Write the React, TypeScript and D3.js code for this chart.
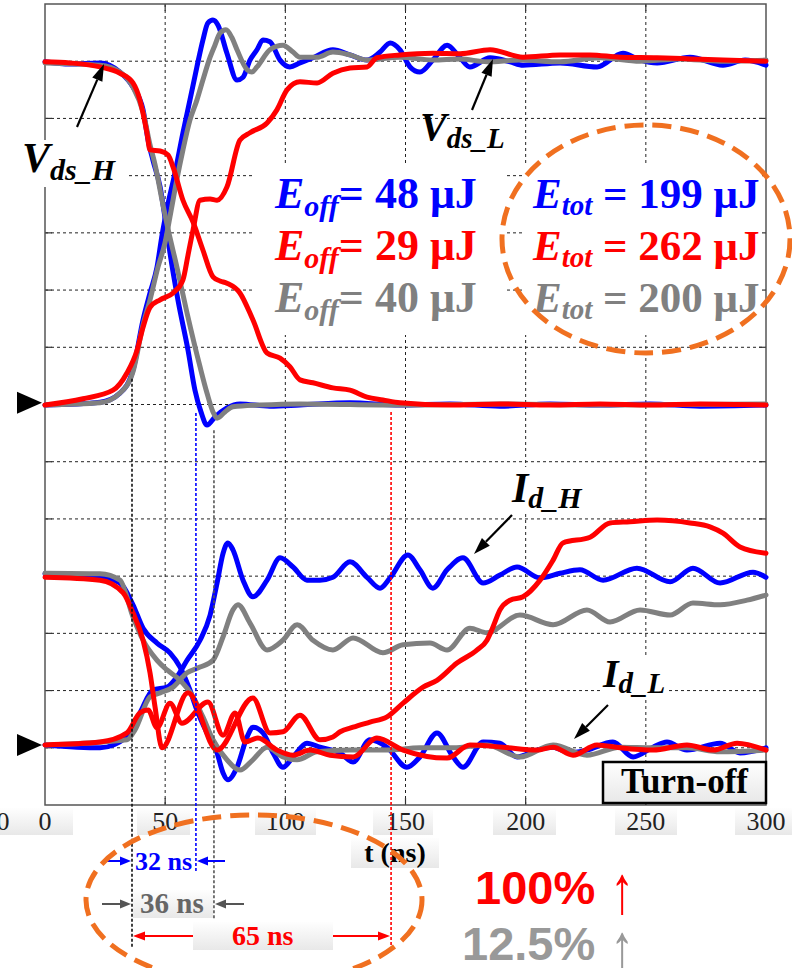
import React from "react";
import * as d3 from "d3";

// ---------- data (t in ns, value in screen divisions from bottom) ----------
const xTickValues = [0, 50, 100, 150, 200, 250, 300];
const xGridValues = [50, 100, 150, 200, 250];
const yGridValues = [1, 2, 3, 4, 5, 6, 7, 8, 9, 10, 11, 12, 13];

const vdsHBlue = [[0,12.99],[10.4,12.95],[22.9,12.97],[31.2,12.81],[36.6,12.55],[40.8,12.15],[42.9,11.62],[44.9,11.27],[47.9,10.8],[49.9,10.27],[52.0,9.65],[55.3,8.83],[59.5,7.95],[62.4,7.25],[64.9,6.87],[67.4,6.64],[70.7,6.78],[75.7,6.94],[81.1,7.01],[93.6,6.97],[106.1,6.99],[126.9,7.03],[147.7,6.99],[168.5,7.01],[189.3,6.97],[210.1,7.01],[231.0,6.99],[251.8,7.01],[272.6,6.97],[300,6.99]];
const vdsLBlue = [[0,6.99],[22.9,7.04],[31.2,7.2],[36.6,7.6],[40.8,8.48],[43.7,8.95],[46.6,9.4],[48.7,9.96],[50.8,10.43],[54.1,11.05],[57.4,11.75],[60.3,12.32],[63.2,12.9],[65.7,13.37],[67.8,13.67],[69.9,13.72],[72.0,13.63],[75.7,13.14],[79.9,12.67],[82.4,12.72],[85.3,13.02],[88.2,13.2],[90.7,13.37],[93.6,13.34],[97.8,13.02],[101.9,12.9],[106.1,12.97],[111.5,13.06],[119.8,13.2],[126.9,13.11],[134.0,13.02],[139.4,13.16],[143.6,13.32],[147.7,13.2],[151.9,12.9],[156.0,12.81],[161.4,13.02],[167.3,13.28],[172.7,13.06],[176.8,12.9],[185.2,13.06],[193.5,12.99],[198.9,12.93],[214.3,12.97],[229.7,12.9],[240.5,13.14],[247.6,13.02],[254.7,12.97],[268.4,13.07],[282.1,12.93],[291.3,13.02],[300,12.93]];
const idHBlue = [[0,4.04],[22.9,3.98],[31.2,3.88],[36.6,3.5],[40.8,3.09],[46.6,2.83],[52.0,2.66],[56.2,2.41],[60.3,2.01],[63.2,1.66],[67.4,1.26],[71.6,0.91],[74.1,0.56],[76.1,0.44],[79.9,0.66],[84.1,1.19],[86.5,1.36],[90.7,1.26],[94.9,0.91],[99.0,0.66],[103.2,0.84],[109.0,1.08],[114.4,1.01],[122.8,0.91],[128.2,0.75],[135.2,1.14],[142.3,1.01],[150.6,0.66],[156.0,0.84],[163.1,1.26],[169.8,0.84],[173.9,0.66],[182.3,1.1],[189.3,1.08],[196.4,0.84],[204.7,0.96],[211.4,1.01],[218.4,0.91],[225.5,0.96],[236.3,1.1],[244.7,0.84],[253.0,1.01],[258.8,1.1],[267.1,0.96],[280.9,1.08],[289.2,0.91],[300,1.0]];
const idLBlue = [[0,1.05],[22.9,1.0],[34.1,1.19],[39.5,1.61],[44.9,2.01],[50.8,2.06],[54.9,2.24],[59.1,2.53],[64.5,2.88],[68.7,3.32],[71.6,3.88],[74.1,4.4],[76.1,4.58],[78.2,4.46],[82.4,3.93],[86.5,3.64],[92.4,3.93],[97.8,4.32],[103.2,4.16],[109.0,3.93],[114.4,3.93],[119.8,3.98],[126.9,4.25],[134.0,3.98],[139.4,3.79],[143.6,3.97],[151.0,4.37],[156.0,4.11],[161.4,3.79],[167.3,4.11],[173.9,4.32],[182.3,3.88],[189.3,4.02],[196.4,4.16],[206.0,3.97],[214.3,4.05],[222.6,4.11],[232.2,3.93],[246.3,4.14],[260.1,3.9],[269.6,4.14],[280.9,3.88],[294.6,4.07],[300,3.98]];

const vdsHGray = [[0,12.97],[22.9,12.93],[31.2,12.81],[36.6,12.55],[40.8,12.11],[43.7,11.54],[45.8,11.19],[48.7,10.57],[50.8,10.14],[54.9,9.4],[59.1,8.6],[64.5,7.66],[67.4,7.2],[69.9,6.87],[71.6,6.76],[74.9,6.87],[78.2,6.96],[89.5,6.99],[106.1,7.01],[147.7,6.99],[189.3,7.01],[231.0,6.99],[300,7.01]];
const vdsLGray = [[0,6.99],[22.9,7.03],[31.2,7.2],[36.6,7.57],[40.8,8.39],[43.7,8.83],[47.0,9.4],[49.9,9.82],[52.0,10.28],[54.9,10.94],[57.4,11.45],[60.3,11.97],[63.2,12.32],[65.7,12.67],[68.7,13.07],[70.7,13.28],[72.8,13.49],[75.3,13.55],[77.8,13.41],[79.9,13.2],[84.1,12.85],[86.1,12.81],[88.2,12.9],[93.6,13.2],[99.0,13.28],[103.2,13.16],[106.1,13.07],[113.2,13.07],[119.8,13.16],[126.9,13.11],[134.0,13.02],[147.7,13.07],[161.4,13.02],[172.7,13.04],[183.9,12.99],[197.6,13.02],[214.3,12.99],[231.0,13.06],[247.6,13.0],[264.2,13.04],[280.9,13.0],[300,13.02]];
const idHGray = [[0,4.05],[22.9,4.04],[31.2,3.93],[36.6,3.29],[40.8,2.88],[46.6,2.53],[50.8,2.36],[56.2,2.18],[61.6,1.89],[65.7,1.54],[69.9,1.14],[75.7,0.79],[81.1,0.61],[86.5,0.79],[92.4,1.01],[99.0,0.84],[104.9,0.79],[113.2,0.93],[126.9,0.96],[142.3,0.96],[156.0,1.0],[169.8,1.0],[183.9,1.05],[197.6,0.84],[211.4,1.05],[225.5,0.87],[239.3,1.01],[253.0,1.0],[267.1,1.0],[280.9,0.93],[300,0.96]];
const idLGray = [[0,1.05],[34.1,1.14],[37.4,1.31],[43.7,1.89],[47.9,1.96],[53.3,2.06],[59.1,2.31],[64.5,2.41],[69.9,2.53],[74.1,2.94],[78.2,3.41],[80.3,3.5],[85.3,3.18],[92.4,2.71],[99.0,2.88],[104.9,3.15],[111.5,2.88],[119.8,2.71],[128.2,2.92],[140.6,2.66],[149.0,2.8],[160.2,2.83],[167.3,2.71],[176.8,3.09],[183.9,3.01],[197.6,3.32],[211.4,3.15],[225.5,3.41],[235.1,3.2],[247.6,3.41],[260.1,3.32],[269.6,3.53],[280.9,3.5],[292.1,3.58],[300,3.67]];

const vdsHRed = [[0,12.99],[10.4,12.97],[22.9,12.9],[31.2,12.79],[36.6,12.62],[39.5,12.32],[42.4,11.75],[43.7,11.45],[47.9,11.43],[51.2,11.36],[53.3,11.15],[57.4,10.57],[61.6,10.19],[65.7,9.7],[69.9,9.23],[72.8,9.16],[75.7,9.12],[81.1,8.95],[86.5,8.48],[92.4,7.9],[97.8,7.81],[101.9,7.66],[106.1,7.43],[111.5,7.38],[119.8,7.29],[126.9,7.25],[134.0,7.13],[140.6,7.08],[147.7,7.03],[168.5,6.99],[189.3,7.01],[210.1,6.99],[231.0,7.01],[251.8,6.99],[272.6,7.01],[300,6.99]];
const vdsLRed = [[0,6.99],[15.8,7.1],[28.3,7.25],[34.1,7.55],[38.3,7.95],[40.8,8.35],[43.7,8.7],[47.9,8.83],[53.3,8.95],[57.4,9.18],[59.5,9.61],[61.6,10.05],[64.5,10.57],[68.7,10.59],[71.6,10.57],[75.7,10.8],[81.1,11.62],[85.3,11.75],[92.4,11.92],[96.5,12.15],[100.7,12.5],[106.1,12.64],[113.2,12.62],[119.8,12.79],[126.9,12.88],[134.0,12.9],[138.1,13.06],[147.7,13.11],[161.4,13.14],[172.7,13.13],[185.2,13.2],[198.9,13.07],[214.3,13.11],[226.8,13.11],[239.3,13.07],[254.7,13.06],[268.4,13.04],[282.1,13.02],[300,13.0]];
const idHRed = [[0,3.98],[22.9,3.93],[32.5,3.71],[36.6,3.36],[40.8,2.88],[43.7,2.31],[45.8,1.71],[48.7,1.0],[59.5,1.96],[71.6,0.96],[86.5,1.87],[93.6,1.26],[99.0,1.28],[106.1,1.57],[114.4,1.14],[119.8,1.19],[122.8,1.28],[128.2,1.36],[135.2,1.45],[142.3,1.54],[149.0,1.78],[157.3,2.06],[163.1,2.18],[171.4,2.48],[179.8,2.71],[183.9,2.88],[186.4,3.11],[189.3,3.41],[193.5,3.58],[198.9,3.64],[206.0,3.93],[211.4,4.28],[215.5,4.58],[226.8,4.68],[235.1,4.93],[243.4,4.95],[254.7,4.98],[268.4,4.93],[276.7,4.86],[282.1,4.75],[289.2,4.51],[300,4.4]];
const idLRed = [[0,1.05],[22.9,1.1],[34.1,1.26],[39.5,1.61],[42.9,1.66],[46.6,1.35],[52.0,1.78],[57.0,1.43],[67.8,1.8],[74.1,1.22],[79.1,1.61],[83.2,1.1],[88.6,1.17],[96.5,0.96],[103.2,0.87],[110.3,0.96],[118.6,0.87],[128.2,0.84],[138.1,1.17],[149.0,0.96],[167.3,0.82],[176.8,1.05],[190.6,1.01],[204.7,0.96],[211.4,1.01],[219.7,0.87],[229.7,1.05],[239.3,1.0],[253.0,0.96],[267.1,1.05],[278.0,0.96],[288.0,1.08],[300,0.96]];

// delay markers (ns) and their upper end (divisions)
const markerTimes = [36.2, 62.8, 70.3, 144.0];
const markerTops = [7.45, 6.85, 6.55, 6.87];

const eoffValues = ["48", "29", "40"];
const etotValues = ["199", "262", "200"];
const delayLabels = ["32 ns", "36 ns", "65 ns"];
const increaseLabels = ["100%", "12.5%"];

// ---------- styling ----------
const BLUE = "#0000ff";
const RED = "#ff0000";
const GRAY = "#808080";
const SERIF = "'Liberation Serif','Times New Roman',serif";
const SANS = "'Liberation Sans',Arial,sans-serif";
const ORANGE = "#f07020";

function Arrow({ x1, y1, x2, y2, color, w = 2, hl = 14, hw = 9 }: any) {
  const a = Math.atan2(y2 - y1, x2 - x1);
  const bx = x2 - hl * Math.cos(a);
  const by = y2 - hl * Math.sin(a);
  const px = (-Math.sin(a) * hw) / 2;
  const py = (Math.cos(a) * hw) / 2;
  return (
    <g>
      <line x1={x1} y1={y1} x2={bx} y2={by} stroke={color} strokeWidth={w} />
      <polygon points={`${x2},${y2} ${bx + px},${by + py} ${bx - px},${by - py}`} fill={color} />
    </g>
  );
}

export default function App() {
  const L = 45, R = 766, T = 4, B = 805;
  const x = d3.scaleLinear().domain([0, 300]).range([L, R]);
  const y = d3.scaleLinear().domain([0, 14]).range([B, T]);
  const line = d3
    .line<number[]>()
    .x((d) => x(d[0]))
    .y((d) => y(d[1]))
    .curve(d3.curveMonotoneX);

  const traces = [
    { d: vdsHBlue, c: BLUE }, { d: vdsLBlue, c: BLUE }, { d: idHBlue, c: BLUE }, { d: idLBlue, c: BLUE },
    { d: vdsHGray, c: GRAY }, { d: vdsLGray, c: GRAY }, { d: idHGray, c: GRAY }, { d: idLGray, c: GRAY },
    { d: vdsHRed, c: RED }, { d: vdsLRed, c: RED }, { d: idHRed, c: RED }, { d: idLRed, c: RED },
  ];
  const markerColors = ["#111", BLUE, "#555", RED];
  const markerBottoms = [948, 873, 920, 950];
  const rowColors = [BLUE, RED, GRAY];
  const rowBase = [208, 260, 312];

  const tickBoxes: [number, number][] = [[20, 73], [137, 190], [255, 316], [373, 433], [493, 556], [615, 677], [735, 792]];

  return (
    <svg width={792} height={968} style={{ position: "absolute", left: 0, top: 0, background: "#fff" }}>
      <defs>
        <linearGradient id="lbl" x1="0" y1="0" x2="0" y2="1">
          <stop offset="0" stopColor="#fefefe" />
          <stop offset="1" stopColor="#e8e8e8" />
        </linearGradient>
      </defs>
      <rect x={0} y={0} width={792} height={968} fill="#fff" />

      {/* grid */}
      {xGridValues.map((v) => (
        <line key={"gx" + v} x1={x(v)} x2={x(v)} y1={T} y2={B} stroke="#222" strokeWidth={1} strokeDasharray="3,3" />
      ))}
      {yGridValues.map((v) => (
        <line key={"gy" + v} x1={L} x2={R} y1={y(v)} y2={y(v)} stroke="#222" strokeWidth={1} strokeDasharray="3,3" />
      ))}
      {/* frame ticks */}
      {xGridValues.map((v) => (
        <g key={"tx" + v}>
          <line x1={x(v)} x2={x(v)} y1={B} y2={B - 7} stroke="#333" strokeWidth={1.2} />
          <line x1={x(v)} x2={x(v)} y1={T} y2={T + 7} stroke="#333" strokeWidth={1.2} />
        </g>
      ))}
      {yGridValues.map((v) => (
        <g key={"ty" + v}>
          <line x1={R} x2={R - 7} y1={y(v)} y2={y(v)} stroke="#333" strokeWidth={1.2} />
          <line x1={L} x2={L + 7} y1={y(v)} y2={y(v)} stroke="#333" strokeWidth={1.2} />
        </g>
      ))}
      <rect x={L} y={T} width={R - L} height={B - T} fill="none" stroke="#555" strokeWidth={1.5} />

      {/* label backgrounds */}
      <rect x={14} y={140} width={114} height={47} fill="#fff" />
      <rect x={253} y={165} width={252} height={170} fill="#fff" />
      <rect x={524} y={165} width={238} height={170} fill="#fff" />
      <rect x={508} y={467} width={78} height={46} fill="#fff" />
      <rect x={600} y={655} width={66} height={44} fill="#fff" />

      {/* tick label boxes */}
      <rect x={0} y={808} width={22} height={27} fill="url(#lbl)" />
      {tickBoxes.map(([a, b], i) => (
        <rect key={"tb" + i} x={a} y={808} width={b - a} height={27} fill="url(#lbl)" />
      ))}
      <rect x={351} y={838} width={88} height={30} fill="url(#lbl)" />

      {/* traces */}
      {traces.map((tr, i) => (
        <path key={"tr" + i} d={line(tr.d as any) || ""} fill="none" stroke={tr.c} strokeWidth={5} strokeLinejoin="round" strokeLinecap="round" />
      ))}

      {/* left reference markers */}
      <polygon points={`17,${y(7.03) - 11} 42,${y(7.03)} 17,${y(7.03) + 11}`} fill="#000" />
      <polygon points={`17,${y(1.05) - 11} 42,${y(1.05)} 17,${y(1.05) + 11}`} fill="#000" />

      {/* labels */}
      <text x={22} y={172} fontFamily={SERIF} fontWeight="bold" fontStyle="italic" fontSize={42} fill="#000">
        V<tspan fontSize={30} dy={8}>ds_H</tspan>
      </text>
      <Arrow x1={77} y1={127} x2={104} y2={64} color="#000" w={2.2} hl={17} hw={11} />
      <text x={420} y={140} fontFamily={SERIF} fontWeight="bold" fontStyle="italic" fontSize={40} fill="#000">
        V<tspan fontSize={29} dy={8}>ds_L</tspan>
      </text>
      <Arrow x1={472} y1={110} x2={493} y2={59} color="#000" w={2.2} hl={17} hw={11} />
      <text x={512} y={502} fontFamily={SERIF} fontWeight="bold" fontStyle="italic" fontSize={42} fill="#000">
        I<tspan fontSize={30} dy={6}>d_H</tspan>
      </text>
      <Arrow x1={512} y1={515} x2={474} y2={554} color="#000" w={2.2} hl={17} hw={11} />
      <text x={603} y={687} fontFamily={SERIF} fontWeight="bold" fontStyle="italic" fontSize={40} fill="#000">
        I<tspan fontSize={29} dy={6}>d_L</tspan>
      </text>
      <Arrow x1={608} y1={705} x2={574} y2={739} color="#000" w={2.2} hl={17} hw={11} />

      {/* energies */}
      {eoffValues.map((v, i) => (
        <text key={"eo" + i} x={275} y={rowBase[i]} fontFamily={SERIF} fontWeight="bold" fontSize={44} fill={rowColors[i]}>
          <tspan fontStyle="italic">E</tspan>
          <tspan fontStyle="italic" fontSize={30} dy={8}>off</tspan>
          <tspan dy={-8}>{"= " + v + " μJ"}</tspan>
        </text>
      ))}
      {etotValues.map((v, i) => (
        <text key={"et" + i} x={533} y={rowBase[i]} fontFamily={SERIF} fontWeight="bold" fontSize={43} fill={rowColors[i]}>
          <tspan fontStyle="italic">E</tspan>
          <tspan fontStyle="italic" fontSize={29} dy={7}>tot</tspan>
          <tspan dy={-7}>{" = " + v + " μJ"}</tspan>
        </text>
      ))}
      <ellipse cx={646} cy={239} rx={144} ry={114} fill="none" stroke={ORANGE} strokeWidth={5} strokeDasharray="19,9" />

      {/* Turn-off box */}
      <rect x={603} y={762} width={163} height={41} fill="url(#lbl)" stroke="#000" strokeWidth={2.5} />
      <text x={684.5} y={793} textAnchor="middle" fontFamily={SERIF} fontWeight="bold" fontSize={35} fill="#000">
        Turn-off
      </text>

      {/* x axis labels */}
      <text x={3} y={830} textAnchor="middle" fontFamily={SERIF} fontSize={26} fill="#222">0</text>
      {xTickValues.map((v) => (
        <text key={"xl" + v} x={x(v)} y={830} textAnchor="middle" fontFamily={SERIF} fontSize={26} fill="#222">
          {v}
        </text>
      ))}
      <text x={395} y={862} textAnchor="middle" fontFamily={SERIF} fontWeight="bold" fontSize={28} fill="#000">
        t (ns)
      </text>

      {/* delay annotations */}
      <rect x={133} y={890} width={80} height={28} fill="url(#lbl)" />
      <rect x={193} y={922} width={140} height={28} fill="url(#lbl)" />
      {markerTimes.map((t, i) => (
        <line key={"mk" + i} x1={x(t)} x2={x(t)} y1={y(markerTops[i])} y2={markerBottoms[i]} stroke={markerColors[i]} strokeWidth={1.6} strokeDasharray="3,2" />
      ))}
      <Arrow x1={105} y1={861} x2={131} y2={861} color={BLUE} w={2} hl={11} hw={9} />
      <Arrow x1={225} y1={861} x2={197} y2={861} color={BLUE} w={2} hl={11} hw={9} />
      <text x={135} y={870} fontFamily={SERIF} fontWeight="bold" fontSize={26} fill={BLUE}>{delayLabels[0]}</text>
      <Arrow x1={102} y1={904} x2={131} y2={904} color="#555" w={2} hl={11} hw={9} />
      <Arrow x1={244} y1={904} x2={215} y2={904} color="#555" w={2} hl={11} hw={9} />
      <text x={140} y={913} fontFamily={SERIF} fontWeight="bold" fontSize={29} fill="#666">{delayLabels[1]}</text>
      <Arrow x1={193} y1={936} x2={133} y2={936} color={RED} w={2} hl={12} hw={9} />
      <Arrow x1={333} y1={936} x2={390} y2={936} color={RED} w={2} hl={12} hw={9} />
      <text x={232} y={945} fontFamily={SERIF} fontWeight="bold" fontSize={28} fill={RED}>{delayLabels[2]}</text>
      <ellipse cx={254} cy={900} rx={168} ry={85} fill="none" stroke={ORANGE} strokeWidth={5} strokeDasharray="19,9" />

      {/* increase labels */}
      <text x={475} y={904} fontFamily={SANS} fontWeight="bold" fontSize={47} fill={RED}>
        {increaseLabels[0]}
      </text>
      <text transform="translate(622,913) scale(1,1.45)" x={0} y={0} textAnchor="middle" fontFamily={SANS} fontSize={47} fill={RED}>
        ↑
      </text>
      <text x={462} y={960} fontFamily={SANS} fontWeight="bold" fontSize={47} fill="#999">
        {increaseLabels[1]}
      </text>
      <text transform="translate(622,971) scale(1,1.45)" x={0} y={0} textAnchor="middle" fontFamily={SANS} fontSize={47} fill="#999">
        ↑
      </text>
    </svg>
  );
}
